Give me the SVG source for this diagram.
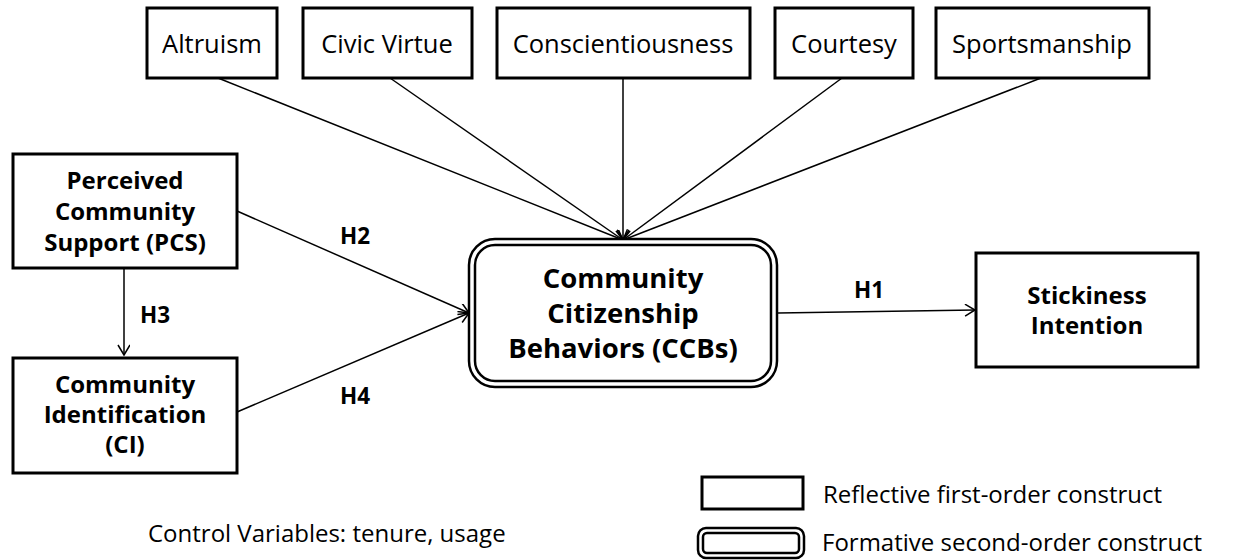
<svg xmlns="http://www.w3.org/2000/svg" width="1242" height="560" viewBox="0 0 1242 560">
<style>
.box{fill:#fff;stroke:#000;stroke-width:3}
.dbl{fill:#fff;stroke:#000;stroke-width:2.5}
.t{font-family:"Open Sans","DejaVu Sans",sans-serif;font-size:25.5px;fill:#000;text-anchor:middle}
.b{font-family:"Open Sans","DejaVu Sans",sans-serif;font-size:24px;font-weight:bold;fill:#000;text-anchor:middle}
.h{font-size:22.5px}
.bl{font-size:27.5px}
.lg{font-family:"Open Sans","DejaVu Sans",sans-serif;font-size:24px;fill:#000}
.c{stroke:#000;stroke-width:1.5;fill:none;marker-end:url(#arr)}
</style>
<defs>
<marker id="arr" markerWidth="14" markerHeight="14" refX="11" refY="6" orient="auto" markerUnits="userSpaceOnUse">
<path d="M1,0 L11,6 L1,12" fill="none" stroke="#000" stroke-width="1.5"/>
</marker>
</defs>
<g id="connectors">
<line class="c" x1="218" y1="78" x2="623" y2="240"/>
<line class="c" x1="390" y1="78" x2="623" y2="240"/>
<line class="c" x1="623" y1="78" x2="623" y2="240"/>
<line class="c" x1="842" y1="78" x2="623" y2="240"/>
<line class="c" x1="1041" y1="78" x2="623" y2="240"/>
<line class="c" x1="237" y1="211" x2="469" y2="313"/>
<line class="c" x1="237" y1="412" x2="469" y2="313"/>
<line class="c" x1="124" y1="268" x2="124" y2="355"/>
<line class="c" x1="778" y1="313" x2="975" y2="310"/>
<text class="b h" x="355" y="244">H2</text>
<text class="b h" x="155" y="323">H3</text>
<text class="b h" x="355" y="404">H4</text>
<text class="b h" x="869" y="298">H1</text>
</g>
<g id="altruism"><rect class="box" x="147" y="8" width="130" height="70"/><text class="t" x="212" y="53">Altruism</text></g>
<g id="civic"><rect class="box" x="303" y="8" width="169" height="70"/><text class="t" x="387" y="53">Civic Virtue</text></g>
<g id="consc"><rect class="box" x="497" y="8" width="253" height="70"/><text class="t" x="623" y="53">Conscientiousness</text></g>
<g id="courtesy"><rect class="box" x="775" y="8" width="138" height="70"/><text class="t" x="844" y="53">Courtesy</text></g>
<g id="sports"><rect class="box" x="936" y="8" width="213" height="70"/><text class="t" x="1042" y="53">Sportsmanship</text></g>
<g id="pcs"><rect class="box" x="13" y="154" width="224" height="114"/>
<text class="b" x="125" y="189">Perceived</text><text class="b" x="125" y="220">Community</text><text class="b" x="125" y="251">Support (PCS)</text></g>
<g id="ci"><rect class="box" x="13" y="358" width="224" height="115"/>
<text class="b" x="125" y="393">Community</text><text class="b" x="125" y="423">Identification</text><text class="b" x="125" y="453">(CI)</text></g>
<g id="ccb"><rect class="dbl" x="469" y="239" width="308" height="148" rx="26"/><rect class="dbl" x="475" y="245" width="296" height="136" rx="20" stroke-width="2"/>
<text class="b bl" x="623" y="288">Community</text><text class="b bl" x="623" y="323">Citizenship</text><text class="b bl" x="623" y="358">Behaviors (CCBs)</text></g>
<g id="stick"><rect class="box" x="976" y="253" width="222" height="114"/>
<text class="b" x="1087" y="304">Stickiness</text><text class="b" x="1087" y="334">Intention</text></g>
<g id="legend">
<rect class="box" x="702" y="477" width="101" height="32"/>
<rect class="dbl" x="698" y="528" width="106" height="30" rx="8" stroke-width="2"/>
<rect class="dbl" x="703" y="533" width="96" height="20" rx="4" stroke-width="2"/>
<text class="lg" x="823" y="503">Reflective first-order construct</text>
<text class="lg" x="822" y="551">Formative second-order construct</text>
<text class="lg" x="148" y="542">Control Variables: tenure, usage</text>
</g>
</svg>
